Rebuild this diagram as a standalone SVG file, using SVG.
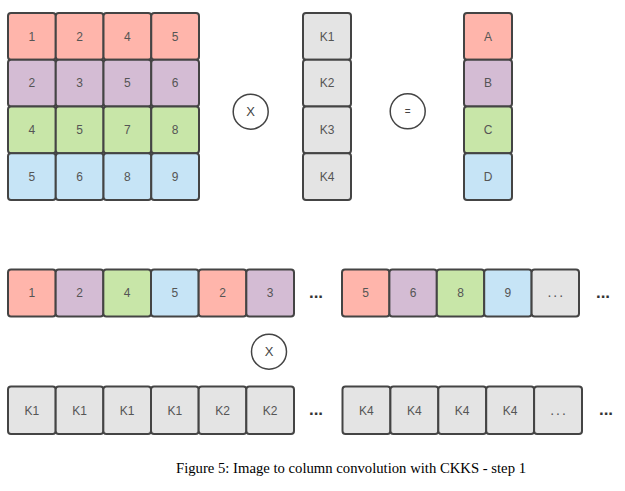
<svg xmlns="http://www.w3.org/2000/svg" width="625" height="491" viewBox="0 0 625 491">
<style>
.c{stroke:#444;stroke-width:2;rx:3;ry:3}
.r{fill:#ffb5ab}.p{fill:#d4bcd4}.g{fill:#c8e6a8}.b{fill:#c6e4f6}.k{fill:#e4e4e4}
.t{font-family:"Liberation Sans",Arial,sans-serif;font-size:12px;fill:#555;text-anchor:middle}
.op{fill:#fff;stroke:#444;stroke-width:1.5}
.ot{font-family:"Liberation Sans",Arial,sans-serif;font-size:13px;fill:#444;text-anchor:middle}
.d{font-family:"Liberation Sans",Arial,sans-serif;font-size:17px;font-weight:bold;fill:#333;text-anchor:middle}
.di{font-family:"Liberation Sans",Arial,sans-serif;font-size:14px;fill:#555;text-anchor:middle;letter-spacing:2px}
.cap{font-family:"Liberation Serif","Times New Roman",serif;font-size:14.7px;fill:#000;text-anchor:middle}
</style>
<g id="matrix">
<rect class="c r" x="8" y="13" width="47.75" height="46.75"/><text class="t" x="31.9" y="40.5">1</text>
<rect class="c r" x="55.75" y="13" width="47.75" height="46.75"/><text class="t" x="79.6" y="40.5">2</text>
<rect class="c r" x="103.5" y="13" width="47.75" height="46.75"/><text class="t" x="127.4" y="40.5">4</text>
<rect class="c r" x="151.25" y="13" width="47.75" height="46.75"/><text class="t" x="175.1" y="40.5">5</text>
<rect class="c p" x="8" y="59.75" width="47.75" height="46.75"/><text class="t" x="31.9" y="87.2">2</text>
<rect class="c p" x="55.75" y="59.75" width="47.75" height="46.75"/><text class="t" x="79.6" y="87.2">3</text>
<rect class="c p" x="103.5" y="59.75" width="47.75" height="46.75"/><text class="t" x="127.4" y="87.2">5</text>
<rect class="c p" x="151.25" y="59.75" width="47.75" height="46.75"/><text class="t" x="175.1" y="87.2">6</text>
<rect class="c g" x="8" y="106.5" width="47.75" height="46.75"/><text class="t" x="31.9" y="134">4</text>
<rect class="c g" x="55.75" y="106.5" width="47.75" height="46.75"/><text class="t" x="79.6" y="134">5</text>
<rect class="c g" x="103.5" y="106.5" width="47.75" height="46.75"/><text class="t" x="127.4" y="134">7</text>
<rect class="c g" x="151.25" y="106.5" width="47.75" height="46.75"/><text class="t" x="175.1" y="134">8</text>
<rect class="c b" x="8" y="153.25" width="47.75" height="46.75"/><text class="t" x="31.9" y="180.7">5</text>
<rect class="c b" x="55.75" y="153.25" width="47.75" height="46.75"/><text class="t" x="79.6" y="180.7">6</text>
<rect class="c b" x="103.5" y="153.25" width="47.75" height="46.75"/><text class="t" x="127.4" y="180.7">8</text>
<rect class="c b" x="151.25" y="153.25" width="47.75" height="46.75"/><text class="t" x="175.1" y="180.7">9</text>
</g>
<g id="op-times-top"><circle class="op" cx="250.7" cy="111.7" r="17.5"/><text class="ot" x="250.7" y="116.3">X</text></g>
<g id="kernel">
<rect class="c k" x="303" y="13" width="48" height="46.75"/><text class="t" x="327" y="40.5">K1</text>
<rect class="c k" x="303" y="59.75" width="48" height="46.75"/><text class="t" x="327" y="87.2">K2</text>
<rect class="c k" x="303" y="106.5" width="48" height="46.75"/><text class="t" x="327" y="134">K3</text>
<rect class="c k" x="303" y="153.25" width="48" height="46.75"/><text class="t" x="327" y="180.7">K4</text>
</g>
<g id="op-equals"><circle class="op" cx="407.7" cy="111.3" r="17.5"/><text class="ot" x="407.7" y="115" style="font-size:10px">=</text></g>
<g id="result">
<rect class="c r" x="464" y="13" width="48" height="46.75"/><text class="t" x="488" y="40.5">A</text>
<rect class="c p" x="464" y="59.75" width="48" height="46.75"/><text class="t" x="488" y="87.2">B</text>
<rect class="c g" x="464" y="106.5" width="48" height="46.75"/><text class="t" x="488" y="134">C</text>
<rect class="c b" x="464" y="153.25" width="48" height="46.75"/><text class="t" x="488" y="180.7">D</text>
</g>
<g id="vector-data">
<rect class="c r" x="8" y="269.5" width="47.67" height="47"/><text class="t" x="31.8" y="297.2">1</text>
<rect class="c p" x="55.67" y="269.5" width="47.67" height="47"/><text class="t" x="79.5" y="297.2">2</text>
<rect class="c g" x="103.33" y="269.5" width="47.67" height="47"/><text class="t" x="127.2" y="297.2">4</text>
<rect class="c b" x="151" y="269.5" width="47.67" height="47"/><text class="t" x="174.8" y="297.2">5</text>
<rect class="c r" x="198.67" y="269.5" width="47.67" height="47"/><text class="t" x="222.5" y="297.2">2</text>
<rect class="c p" x="246.33" y="269.5" width="47.67" height="47"/><text class="t" x="270.2" y="297.2">3</text>
<text class="d" x="316" y="298">...</text>
<rect class="c r" x="342" y="269.5" width="47.4" height="47"/><text class="t" x="365.7" y="297.2">5</text>
<rect class="c p" x="389.4" y="269.5" width="47.4" height="47"/><text class="t" x="413.1" y="297.2">6</text>
<rect class="c g" x="436.8" y="269.5" width="47.4" height="47"/><text class="t" x="460.5" y="297.2">8</text>
<rect class="c b" x="484.2" y="269.5" width="47.4" height="47"/><text class="t" x="507.9" y="297.2">9</text>
<rect class="c k" x="531.6" y="269.5" width="47.4" height="47"/><text class="di" x="556.3" y="297.2">...</text>
<text class="d" x="603" y="298">...</text>
</g>
<g id="op-times-bottom"><circle class="op" cx="269" cy="351.7" r="17.5"/><text class="ot" x="269" y="356.3">X</text></g>
<g id="vector-kernel">
<rect class="c k" x="8" y="386.5" width="47.67" height="47.5"/><text class="t" x="31.8" y="414.5">K1</text>
<rect class="c k" x="55.67" y="386.5" width="47.67" height="47.5"/><text class="t" x="79.5" y="414.5">K1</text>
<rect class="c k" x="103.33" y="386.5" width="47.67" height="47.5"/><text class="t" x="127.2" y="414.5">K1</text>
<rect class="c k" x="151" y="386.5" width="47.67" height="47.5"/><text class="t" x="174.8" y="414.5">K1</text>
<rect class="c k" x="198.67" y="386.5" width="47.67" height="47.5"/><text class="t" x="222.5" y="414.5">K2</text>
<rect class="c k" x="246.33" y="386.5" width="47.67" height="47.5"/><text class="t" x="270.2" y="414.5">K2</text>
<text class="d" x="316" y="415">...</text>
<rect class="c k" x="342.5" y="386.5" width="47.9" height="47.5"/><text class="t" x="366.4" y="414.5">K4</text>
<rect class="c k" x="390.4" y="386.5" width="47.9" height="47.5"/><text class="t" x="414.3" y="414.5">K4</text>
<rect class="c k" x="438.3" y="386.5" width="47.9" height="47.5"/><text class="t" x="462.2" y="414.5">K4</text>
<rect class="c k" x="486.2" y="386.5" width="47.9" height="47.5"/><text class="t" x="510.1" y="414.5">K4</text>
<rect class="c k" x="534.1" y="386.5" width="47.9" height="47.5"/><text class="di" x="559" y="414.5">...</text>
<text class="d" x="606" y="415">...</text>
</g>
<g id="connectors"/>
<text class="cap" x="351" y="472.5">Figure 5: Image to column convolution with CKKS - step 1</text>
</svg>
